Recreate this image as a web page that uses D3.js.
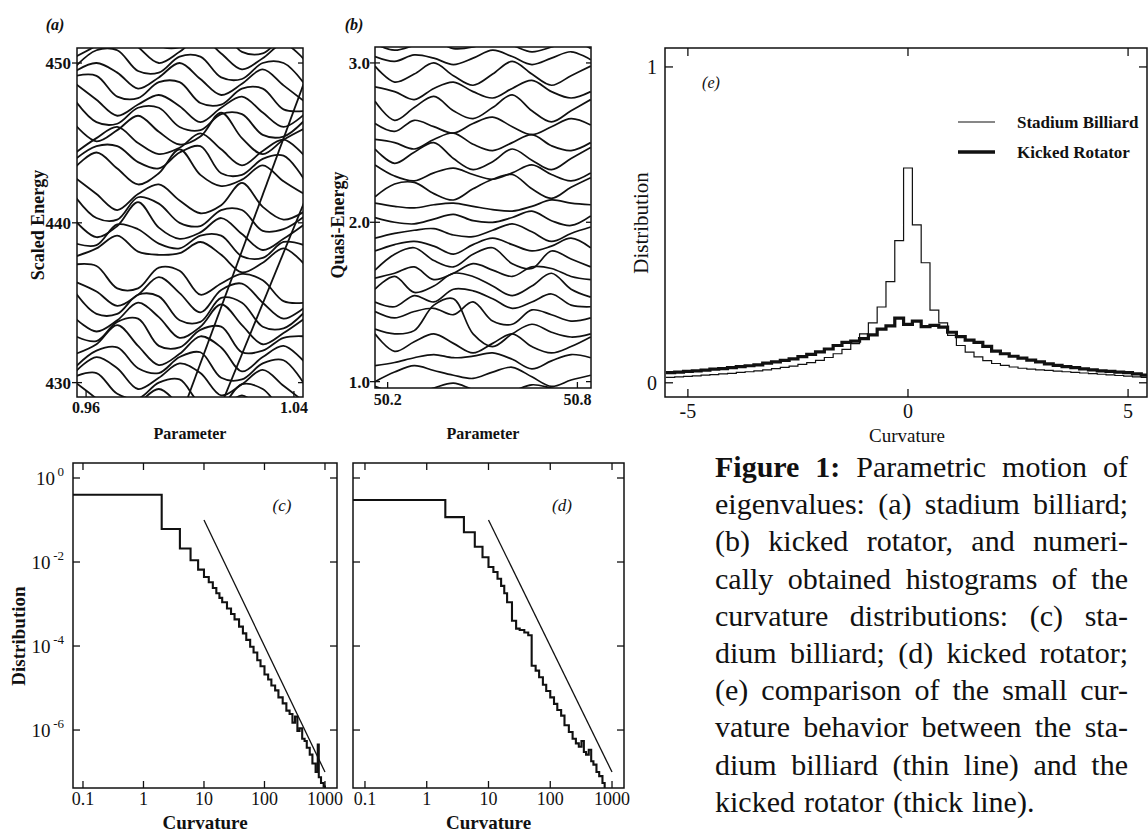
<!DOCTYPE html>
<html><head><meta charset="utf-8">
<script src="https://cdn.jsdelivr.net/npm/d3@7"></script>
<style>body{margin:0;background:#fff;}svg{display:block;}</style>
</head><body>
<svg id="fig" width="1148" height="832"></svg>
<script>
// ---------------- DATA ----------------
// (a) stadium billiard levels: scaled energy vs parameter
const paramA=[0.956,0.964,0.972,0.980,0.988,0.996,1.004,1.012,1.020,1.028,1.036,1.044];
const levelsA=[
 [430.0,429.0,428.0,428.7,429.6,428.6,427.6,428.3,429.2,428.2,427.2,427.9],
 [430.4,430.6,429.3,429.0,430.0,430.2,428.7,428.6,429.9,429.6,428.3,428.2],
 [430.7,431.6,430.9,429.6,430.3,431.2,430.6,429.2,429.9,430.8,429.8,428.8],
 [431.0,432.0,432.2,430.9,430.6,431.6,431.9,430.3,430.2,431.2,431.4,429.9],
 [431.8,432.4,433.6,432.3,431.1,431.8,432.9,432.2,430.7,431.6,432.3,431.3],
 [432.9,432.6,433.8,434.0,432.3,432.2,433.3,433.5,431.9,432.0,432.8,432.9],
 [434.0,433.2,433.9,435.0,434.1,432.8,433.5,434.9,433.6,432.4,433.1,434.0],
 [435.6,434.3,434.3,435.5,435.4,433.9,433.8,435.3,435.0,433.5,433.4,434.4],
 [436.3,435.7,434.8,435.5,436.6,435.6,434.4,435.8,436.2,435.0,434.0,434.7],
 [437.4,437.3,435.9,435.9,437.2,437.0,435.5,436.2,436.8,436.4,435.1,435.0],
 [437.9,438.4,439.2,438.2,438.0,438.1,438.8,438.0,436.9,437.5,438.4,437.4],
 [438.7,438.6,439.9,439.6,438.7,438.4,439.2,439.2,437.9,437.8,438.8,438.6],
 [440.1,439.1,439.8,441.3,439.7,439.0,439.4,440.3,439.3,438.3,439.0,439.9],
 [441.6,440.3,440.2,441.6,441.2,440.0,439.8,440.8,440.8,439.5,439.6,440.4],
 [442.8,441.8,440.8,441.8,442.4,441.4,440.6,441.1,442.5,441.0,440.2,440.7],
 [443.5,444.4,443.4,442.4,443.1,444.6,443.0,442.3,442.7,443.6,442.6,441.8],
 [444.0,444.8,444.8,443.8,443.4,444.4,444.8,443.1,443.0,444.0,444.2,442.7],
 [444.4,445.3,446.0,445.0,444.3,444.7,445.6,444.6,443.6,444.5,445.2,444.2],
 [446.1,445.1,445.8,446.7,445.7,444.9,445.4,446.9,445.3,444.3,445.2,445.9],
 [447.6,446.3,446.2,447.2,447.2,446.0,445.8,446.8,446.8,445.5,445.4,446.4],
 [448.7,447.7,446.7,447.4,448.0,447.3,446.3,447.2,447.9,446.9,446.0,446.8],
 [449.2,449.2,447.9,447.8,448.8,448.8,447.5,447.4,448.4,448.4,447.1,447.0],
 [449.5,450.0,449.4,448.4,449.1,450.0,449.0,448.0,448.7,449.6,448.6,447.6],
 [449.8,450.8,450.8,449.5,449.4,450.4,450.4,449.1,449.0,450.0,450.0,448.7],
 [450.4,451.1,452.0,451.0,450.0,450.7,451.6,450.6,449.6,450.3,451.2,450.2],
 [451.5,451.4,452.4,452.4,451.1,451.0,452.0,452.0,450.7,450.6,451.6,451.6],
 [453.0,452.0,452.7,453.6,452.6,451.6,452.3,453.2,452.2,451.2,451.9,452.8]
];
// straight (uncoupled) levels crossing the spectrum: [p0,E0,p1,E1]
const crossingA=[[0.999,429.0,1.044,448.8],[1.013,429.0,1.044,441.3]];
const ticksAy=[430,440,450], ticksAx=[0.96,1.04];

// (b) kicked rotator quasi-energies vs parameter
const paramB=[50.16,50.222,50.284,50.346,50.408,50.47,50.532,50.594,50.656,50.718,50.78,50.842];
const levelsB=[
 [0.97,0.93,0.92,0.96,0.99,0.95,0.92,0.94,0.98,0.96,0.93,0.95],
 [1.00,1.06,1.10,1.07,1.04,1.02,1.06,1.09,1.03,0.97,1.01,1.04],
 [1.10,1.12,1.15,1.17,1.15,1.16,1.18,1.14,1.08,1.13,1.17,1.15],
 [1.30,1.19,1.25,1.30,1.24,1.18,1.24,1.30,1.22,1.18,1.22,1.28],
 [1.33,1.30,1.32,1.48,1.52,1.30,1.22,1.30,1.36,1.31,1.28,1.30],
 [1.44,1.40,1.44,1.46,1.42,1.50,1.38,1.36,1.45,1.42,1.38,1.40],
 [1.50,1.47,1.54,1.50,1.58,1.57,1.52,1.46,1.50,1.55,1.48,1.47],
 [1.58,1.66,1.56,1.60,1.68,1.66,1.60,1.54,1.60,1.68,1.58,1.53],
 [1.65,1.68,1.72,1.64,1.68,1.74,1.70,1.66,1.72,1.71,1.66,1.64],
 [1.70,1.80,1.84,1.76,1.72,1.80,1.84,1.74,1.71,1.82,1.77,1.72],
 [1.82,1.86,1.88,1.85,1.80,1.86,1.90,1.86,1.82,1.85,1.90,1.84],
 [1.90,1.93,1.95,1.96,1.92,1.91,1.95,1.99,1.94,1.88,1.93,1.97],
 [2.03,2.00,1.99,2.02,2.05,2.01,2.00,2.03,2.07,2.01,1.98,2.04],
 [2.12,2.10,2.09,2.11,2.12,2.10,2.08,2.07,2.10,2.14,2.12,2.11],
 [2.16,2.24,2.25,2.18,2.14,2.21,2.27,2.30,2.21,2.15,2.22,2.28],
 [2.36,2.29,2.26,2.31,2.34,2.30,2.27,2.31,2.36,2.30,2.26,2.31],
 [2.46,2.37,2.44,2.50,2.40,2.33,2.38,2.46,2.39,2.33,2.40,2.47],
 [2.52,2.50,2.46,2.52,2.56,2.49,2.45,2.50,2.55,2.48,2.45,2.50],
 [2.62,2.57,2.64,2.60,2.56,2.62,2.66,2.60,2.55,2.60,2.65,2.61],
 [2.76,2.64,2.72,2.79,2.70,2.65,2.72,2.80,2.70,2.63,2.70,2.77],
 [2.85,2.82,2.77,2.84,2.88,2.82,2.78,2.84,2.89,2.82,2.78,2.82],
 [2.98,2.88,2.93,3.00,2.92,2.86,2.93,3.01,2.93,2.86,2.92,2.98],
 [3.04,3.01,3.05,3.03,2.99,3.03,3.08,3.04,2.99,3.03,3.07,3.02],
 [3.12,3.08,3.11,3.14,3.09,3.10,3.14,3.11,3.07,3.10,3.14,3.09]
];
const ticksBy=[1.0,2.0,3.0], ticksBx=[50.2,50.8];

// (c) stadium billiard curvature histogram (bin edges, values)
const edgesC=[0.05,2,4,6,8,10,12,14,16,18,20,24,28,32,38,44,50,58,66,76,86,100,115,130,150,170,200,230,260,290,320,350,380,420,460,500,560,620,700,760,790,860,950,1000];
const distC=[0.40,0.061,0.021,0.011,0.0066,0.0044,0.0033,0.0024,0.0018,0.0014,0.0011,0.00078,0.00058,0.00043,0.00029,0.00020,0.00014,0.000096,0.000070,0.000046,0.000033,0.000021,0.000016,0.0000115,0.0000088,0.0000060,0.0000043,0.0000029,0.0000024,0.0000015,0.0000021,0.00000095,0.0000011,0.00000062,0.00000055,0.00000038,0.00000026,0.00000016,0.00000010,0.00000045,0.000000075,0.000000055,0.000000045];
// (d) kicked rotator curvature histogram
const edgesD=[0.05,2,4,6,8,10,12,14,16,18,20,24,28,32,38,44,50,58,66,76,86,100,115,130,150,170,200,230,260,290,320,350,380,420,460,500,560,620,700,760,860];
const distD=[0.30,0.117,0.051,0.023,0.013,0.0076,0.0058,0.0040,0.0027,0.0018,0.0011,0.00040,0.00026,0.00024,0.00021,0.00018,0.000034,0.000026,0.000018,0.000012,0.0000085,0.0000060,0.0000042,0.0000030,0.0000022,0.0000013,0.00000090,0.00000062,0.00000048,0.00000040,0.00000055,0.00000030,0.00000026,0.00000034,0.00000018,0.00000015,0.00000010,0.00000008,0.000000055,0.00000003];
// k^-3 reference line
const refLine=[[10,0.1],[1000,1e-7]];
const ticksLogX=[0.1,1,10,100,1000], ticksLogExp=[0,-2,-4,-6];

// (e) small-curvature comparison
const curvE=[-5.4,-5.2,-5.0,-4.8,-4.6,-4.4,-4.2,-4.0,-3.8,-3.6,-3.4,-3.2,-3.0,-2.8,-2.6,-2.4,-2.2,-2.0,-1.8,-1.6,-1.4,-1.2,-1.0,-0.8,-0.6,-0.4,-0.2,0.0,0.2,0.4,0.6,0.8,1.0,1.2,1.4,1.6,1.8,2.0,2.2,2.4,2.6,2.8,3.0,3.2,3.4,3.6,3.8,4.0,4.2,4.4,4.6,4.8,5.0,5.2,5.4];
const stadiumE=[0.017,0.019,0.020,0.022,0.024,0.026,0.028,0.030,0.033,0.035,0.038,0.041,0.045,0.049,0.053,0.058,0.064,0.071,0.080,0.092,0.106,0.124,0.155,0.19,0.24,0.32,0.45,0.68,0.50,0.38,0.23,0.19,0.15,0.118,0.097,0.082,0.070,0.061,0.055,0.050,0.046,0.043,0.041,0.039,0.037,0.035,0.033,0.031,0.029,0.027,0.025,0.023,0.021,0.019,0.017];
const kickedE=[0.032,0.034,0.036,0.038,0.040,0.043,0.045,0.048,0.051,0.054,0.057,0.062,0.066,0.071,0.076,0.083,0.090,0.098,0.107,0.118,0.128,0.132,0.140,0.152,0.170,0.180,0.205,0.185,0.195,0.178,0.182,0.176,0.160,0.146,0.135,0.128,0.115,0.100,0.092,0.084,0.078,0.072,0.066,0.060,0.055,0.051,0.048,0.044,0.041,0.038,0.036,0.034,0.032,0.028,0.024];
const ticksEx=[-5,0,5], ticksEy=[0,1];
const seriesNames=["Stadium Billiard","Kicked Rotator"];
const captionLines=["Figure 1: Parametric motion of","eigenvalues: (a) stadium billiard;","(b) kicked rotator, and numeri-","cally obtained histograms of the","curvature distributions: (c) sta-","dium billiard; (d) kicked rotator;","(e) comparison of the small cur-","vature behavior between the sta-","dium billiard (thin line) and the","kicked rotator (thick line)."];

// ---------------- DRAW ----------------
const svg=d3.select('#fig');
const defs=svg.append('defs');
const INK='#111';
const TF='"Liberation Serif", "Times New Roman", serif';
function clip(id,x0,y0,x1,y1){defs.append('clipPath').attr('id',id).append('rect').attr('x',x0).attr('y',y0).attr('width',x1-x0).attr('height',y1-y0);}
function frame(x0,y0,x1,y1,w){svg.append('rect').attr('x',x0).attr('y',y0).attr('width',x1-x0).attr('height',y1-y0).attr('fill','none').attr('stroke',INK).attr('stroke-width',w||1.5);}
function txt(x,y,s,o){o=o||{};const t=svg.append('text').attr('x',x).attr('y',y).text(s).attr('font-family',TF).attr('font-size',o.size||16).attr('fill',INK).attr('text-anchor',o.anchor||'middle');if(o.bold)t.attr('font-weight','bold');if(o.italic)t.attr('font-style','italic');if(o.rot)t.attr('transform',`rotate(-90,${x},${y})`);return t;}
function tick(x1,y1,x2,y2){svg.append('line').attr('x1',x1).attr('y1',y1).attr('x2',x2).attr('y2',y2).attr('stroke',INK).attr('stroke-width',1.3);}

// ---- (a)
const A={x0:77,x1:303,y0:48,y1:397};
const ax=d3.scaleLinear().domain([0.9565,1.0435]).range([A.x0,A.x1]);
const ay=d3.scaleLinear().domain([429.1,450.94]).range([A.y1,A.y0]);
clip('ca',A.x0,A.y0,A.x1,A.y1);
const ga=svg.append('g').attr('clip-path','url(#ca)');
const lineA=d3.line().x((d,i)=>ax(paramA[i])).y(d=>ay(d)).curve(d3.curveCatmullRom.alpha(0.5));
levelsA.forEach(l=>ga.append('path').attr('d',lineA(l)).attr('fill','none').attr('stroke',INK).attr('stroke-width',1.8));
crossingA.forEach(s=>ga.append('line').attr('x1',ax(s[0])).attr('y1',ay(s[1])).attr('x2',ax(s[2])).attr('y2',ay(s[3])).attr('stroke',INK).attr('stroke-width',1.8));
frame(A.x0,A.y0,A.x1,A.y1);
ticksAy.forEach(t=>{tick(A.x0-5,ay(t),A.x0+5,ay(t));tick(A.x1-5,ay(t),A.x1,ay(t));txt(A.x0-6,ay(t)+6,String(t),{anchor:'end',bold:true,size:17});});
ticksAx.forEach(t=>{tick(ax(t),A.y1,ax(t),A.y1-6);txt(ax(t),A.y1+16,t.toFixed(2),{bold:true,size:16});});
txt(44,225,'Scaled Energy',{rot:true,bold:true,size:18});
txt((A.x0+A.x1)/2,439,'Parameter',{bold:true,size:16});
txt(55,30,'(a)',{italic:true,bold:true,size:16});

// ---- (b)
const B={x0:375,x1:591,y0:47,y1:388};
const bx=d3.scaleLinear().domain([50.16,50.843]).range([B.x0,B.x1]);
const by=d3.scaleLinear().domain([0.96,3.10]).range([B.y1,B.y0]);
clip('cb',B.x0,B.y0,B.x1,B.y1);
const gb=svg.append('g').attr('clip-path','url(#cb)');
const lineB=d3.line().x((d,i)=>bx(paramB[i])).y(d=>by(d)).curve(d3.curveCatmullRom.alpha(0.5));
levelsB.forEach(l=>gb.append('path').attr('d',lineB(l)).attr('fill','none').attr('stroke',INK).attr('stroke-width',1.7));
frame(B.x0,B.y0,B.x1,B.y1);
ticksBy.forEach(t=>{tick(B.x0-5,by(t),B.x0+5,by(t));tick(B.x1-5,by(t),B.x1,by(t));txt(B.x0-5,by(t)+6,t.toFixed(1),{anchor:'end',bold:true,size:17});});
ticksBx.forEach(t=>{tick(bx(t),B.y1,bx(t),B.y1-6);txt(bx(t),B.y1+17,t.toFixed(1),{bold:true,size:16});});
txt(344,225,'Quasi-Energy',{rot:true,bold:true,size:18});
txt((B.x0+B.x1)/2,439,'Parameter',{bold:true,size:16});
txt(354,30,'(b)',{italic:true,bold:true,size:16});

// ---- (e)
const E={x0:665,x1:1147,y0:48,y1:397};
const ex=d3.scaleLinear().domain([-5.52,5.43]).range([E.x0,E.x1]);
const ey=d3.scaleLinear().domain([-0.045,1.06]).range([E.y1,E.y0]);
clip('ce',E.x0,E.y0,E.x1,E.y1);
const ge=svg.append('g').attr('clip-path','url(#ce)');
const stepE=d3.line().x(d=>ex(d[0])).y(d=>ey(d[1])).curve(d3.curveStepAfter);
function histPts(vals){const p=curvE.map((c,i)=>[c-0.1,vals[i]]);p.push([curvE[curvE.length-1]+0.1,vals[vals.length-1]]);return p;}
ge.append('path').attr('d',stepE(histPts(kickedE))).attr('fill','none').attr('stroke',INK).attr('stroke-width',3.2);
ge.append('path').attr('d',stepE(histPts(stadiumE))).attr('fill','none').attr('stroke',INK).attr('stroke-width',1.2);
frame(E.x0,E.y0,E.x1,E.y1);
ticksEx.forEach(t=>{tick(ex(t),E.y1,ex(t),E.y1-8);tick(ex(t),E.y0,ex(t),E.y0+8);txt(ex(t),E.y1+21,String(t),{size:20});});
ticksEy.forEach(t=>{tick(E.x0,ey(t),E.x0+8,ey(t));tick(E.x1-8,ey(t),E.x1,ey(t));txt(E.x0-8,ey(t)+7,String(t),{anchor:'end',size:20});});
txt(648,223,'Distribution',{rot:true,size:21});
txt(907,442,'Curvature',{size:19});
txt(711,88,'(e)',{italic:true,size:16});
// legend
svg.append('line').attr('x1',958).attr('x2',995).attr('y1',122).attr('y2',122).attr('stroke',INK).attr('stroke-width',1.2);
svg.append('line').attr('x1',958).attr('x2',995).attr('y1',152).attr('y2',152).attr('stroke',INK).attr('stroke-width',3.4);
txt(1017,128,seriesNames[0],{anchor:'start',bold:true,size:17});
txt(1017,158,seriesNames[1],{anchor:'start',bold:true,size:17});

// ---- (c) & (d)
function logPanel(P,id,edges,vals,label,lx,showY){
  const x=d3.scaleLog().domain(P.xd).range([P.x0,P.x1]);
  const y=d3.scaleLog().domain([Math.pow(10,-7.38),Math.pow(10,0.357)]).range([P.y1,P.y0]);
  clip(id,P.x0,P.y0,P.x1,P.y1);
  const g=svg.append('g').attr('clip-path',`url(#${id})`);
  const pts=edges.slice(0,-1).map((e,i)=>[e,vals[i]]);
  pts.push([edges[edges.length-1],vals[vals.length-1]]);
  pts.push([edges[edges.length-1],1e-9]);
  const st=d3.line().x(d=>x(d[0])).y(d=>y(d[1])).curve(d3.curveStepAfter);
  g.append('path').attr('d',st(pts)).attr('fill','none').attr('stroke',INK).attr('stroke-width',2.1);
  g.append('line').attr('x1',x(refLine[0][0])).attr('y1',y(refLine[0][1])).attr('x2',x(refLine[1][0])).attr('y2',y(refLine[1][1])).attr('stroke',INK).attr('stroke-width',1.3);
  frame(P.x0,P.y0,P.x1,P.y1);
  ticksLogX.forEach(t=>{tick(x(t),P.y1,x(t),P.y1-7);tick(x(t),P.y0,x(t),P.y0+7);txt(x(t),P.y1+17,String(t),{size:18});});
  ticksLogExp.forEach(e=>{const v=Math.pow(10,e);tick(P.x0,y(v),P.x0+7,y(v));tick(P.x1-7,y(v),P.x1,y(v));
    if(showY){const t=svg.append('text').attr('x',P.x0-9).attr('y',y(v)+7).attr('text-anchor','end').attr('font-family',TF).attr('font-size',19).attr('fill',INK);
      t.append('tspan').text('10');t.append('tspan').attr('dy',-9).attr('font-size',13).text('\u2009'+(e===0?'0':'-'+(-e)));}});
  txt((P.x0+P.x1)/2,829,'Curvature',{bold:true,size:19});
  txt(lx,511,label,{italic:true,size:17});
}
logPanel({x0:73,x1:337,y0:463,y1:788,xd:[0.0684,1580]},'cc',edgesC,distC,'(c)',282,true);
logPanel({x0:353,x1:624,y0:463,y1:788,xd:[0.064,1563]},'cd',edgesD,distD,'(d)',562,false);
txt(25,636,'Distribution',{rot:true,bold:true,size:19});

// ---- caption (justified by word spacing)
const CX0=715,CX1=1128,CY=477,LH=37.2,CFS=30;
const cap=svg.append('g').attr('font-family',TF).attr('font-size',CFS).attr('fill',INK);
captionLines.forEach((line,li)=>{
  const words=line.split(' ');
  const y=CY+LH*li;
  const nodes=words.map((w,wi)=>{const t=cap.append('text').attr('y',y).text(w);if(li===0&&wi<2)t.attr('font-weight','bold');return t;});
  const widths=nodes.map(n=>n.node().getComputedTextLength());
  const total=d3.sum(widths);
  const last=li===captionLines.length-1;
  const gap=last?CFS*0.3:(CX1-CX0-total)/(words.length-1);
  let x=CX0;nodes.forEach((n,i)=>{n.attr('x',x);x+=widths[i]+gap;});
});
</script></body></html>
